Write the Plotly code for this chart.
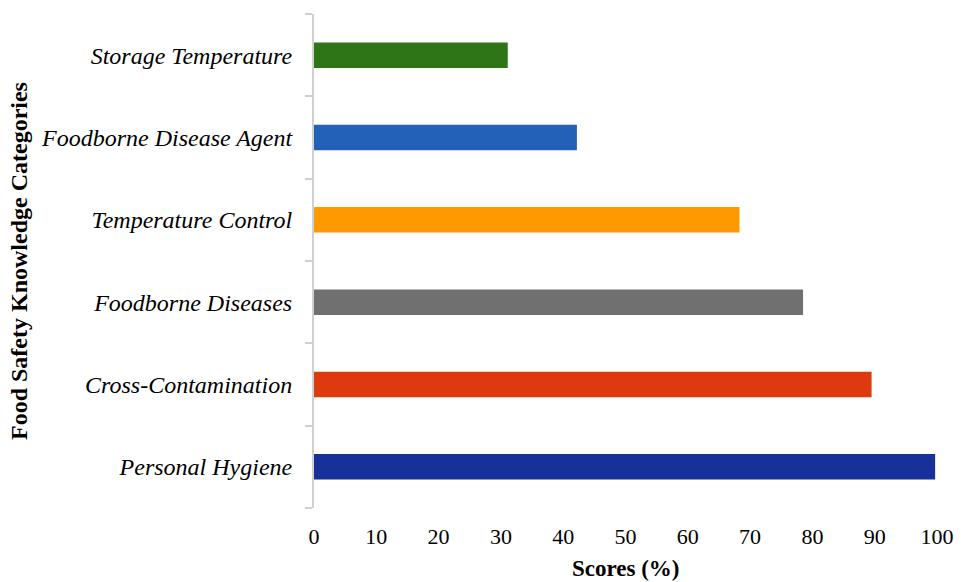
import plotly.graph_objects as go

categories = ["Personal Hygiene", "Cross-Contamination", "Foodborne Diseases",
              "Temperature Control", "Foodborne Disease Agent", "Storage Temperature"]
scores = [99.7, 89.5, 78.5, 68.3, 42.2, 31.1]
colors = ["#17309a", "#dd3a0e", "#707070", "#ff9900", "#2360b8", "#2e7518"]
x_ticks = [0, 10, 20, 30, 40, 50, 60, 70, 80, 90, 100]

W, H = 961, 582
L, R, T, B = 314, 24, 14, 74

fig = go.Figure(go.Bar(
    x=scores, y=categories, orientation="h",
    marker=dict(color=colors, line=dict(width=0)),
    width=0.31,
))

fig.update_layout(
    width=W, height=H,
    margin=dict(l=L, r=R, t=T, b=B, autoexpand=False),
    paper_bgcolor="white", plot_bgcolor="white",
    showlegend=False,
    font=dict(family="Liberation Serif", color="black"),
    xaxis=dict(range=[0, 100], tickvals=x_ticks, showgrid=False, zeroline=False,
               showline=False, ticks="outside", ticklen=9, tickcolor="rgba(0,0,0,0)",
               tickfont=dict(size=22, family="Liberation Serif", color="black"),
               fixedrange=True),
    yaxis=dict(categoryorder="array", categoryarray=categories,
               showgrid=False, zeroline=False, showline=True, linecolor="#d0d0d0",
               linewidth=2, ticks="outside", tickson="boundaries", ticklen=7,
               tickcolor="#d0d0d0", tickwidth=2,
               ticklabelstandoff=15,
               tickfont=dict(size=24, family="Liberation Serif", color="black", style="italic"),
               range=[-0.5, 5.5], fixedrange=True),
    annotations=[
        dict(text="<b>Scores (%)</b>", xref="paper", yref="paper",
             x=0.5, y=-(568 - (H - B)) / (H - T - B), xanchor="center", yanchor="middle",
             showarrow=False, font=dict(size=23, family="Liberation Serif", color="black")),
        dict(text="<b>Food Safety Knowledge Categories</b>", xref="paper", yref="paper",
             x=-(L - 19) / (W - L - R), y=0.5, xanchor="center", yanchor="middle",
             textangle=-90, showarrow=False,
             font=dict(size=24, family="Liberation Serif", color="black")),
    ],
)

fig.write_html("out.html", config={"displayModeBar": False},
               post_script="document.body.style.margin='0';")
